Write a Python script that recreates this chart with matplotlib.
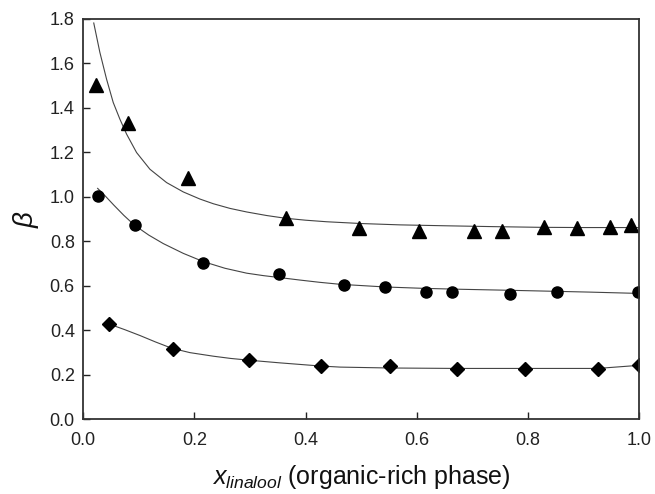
import matplotlib
matplotlib.use("Agg")
import matplotlib.pyplot as plt

plt.rcParams['font.family'] = ['Liberation Sans', 'DejaVu Sans']
plt.rcParams['mathtext.fontset'] = 'custom'
plt.rcParams['mathtext.rm'] = 'Liberation Sans'
plt.rcParams['mathtext.it'] = 'Liberation Sans:italic'

# Experimental points
tri_x = [0.023, 0.081, 0.188, 0.364, 0.496, 0.604, 0.703, 0.754, 0.829, 0.888, 0.947, 0.986]
tri_y = [1.503, 1.333, 1.086, 0.906, 0.858, 0.848, 0.848, 0.848, 0.866, 0.858, 0.866, 0.874]

cir_x = [0.027, 0.093, 0.216, 0.353, 0.469, 0.543, 0.616, 0.664, 0.768, 0.852, 0.998]
cir_y = [1.003, 0.872, 0.703, 0.652, 0.603, 0.595, 0.573, 0.573, 0.563, 0.573, 0.573]

dia_x = [0.046, 0.161, 0.299, 0.428, 0.552, 0.672, 0.795, 0.925, 1.000]
dia_y = [0.428, 0.318, 0.269, 0.240, 0.240, 0.228, 0.228, 0.228, 0.243]

# Fitted curves
tri_cx = [0.019, 0.030, 0.042, 0.054, 0.066, 0.078, 0.096, 0.120, 0.150, 0.180, 0.210, 0.234,
          0.264, 0.294, 0.330, 0.363, 0.400, 0.438, 0.500, 0.570, 0.650, 0.740, 0.822, 0.900, 1.000]
tri_cy = [1.781, 1.649, 1.529, 1.424, 1.349, 1.282, 1.199, 1.124, 1.064, 1.022, 0.990, 0.969,
          0.948, 0.932, 0.916, 0.904, 0.895, 0.888, 0.880, 0.874, 0.870, 0.866, 0.863, 0.862, 0.862]

cir_cx = [0.026, 0.040, 0.055, 0.073, 0.092, 0.118, 0.144, 0.180, 0.216, 0.255, 0.294, 0.324,
          0.354, 0.390, 0.425, 0.462, 0.543, 0.610, 0.672, 0.750, 0.822, 0.910, 1.000]
cir_cy = [1.038, 1.003, 0.963, 0.917, 0.873, 0.828, 0.790, 0.746, 0.709, 0.679, 0.657, 0.646,
          0.637, 0.626, 0.616, 0.607, 0.595, 0.589, 0.585, 0.581, 0.577, 0.572, 0.566]

dia_cx = [0.045, 0.075, 0.102, 0.130, 0.159, 0.192, 0.234, 0.265, 0.298, 0.354, 0.426, 0.462,
          0.550, 0.672, 0.795, 0.925, 1.000]
dia_cy = [0.430, 0.403, 0.377, 0.348, 0.320, 0.300, 0.284, 0.274, 0.266, 0.254, 0.240, 0.235,
          0.231, 0.229, 0.229, 0.229, 0.243]

x_ticks = [0.0, 0.2, 0.4, 0.6, 0.8, 1.0]
y_ticks = [0.0, 0.2, 0.4, 0.6, 0.8, 1.0, 1.2, 1.4, 1.6, 1.8]

fig = plt.figure(figsize=(6.55, 4.94), dpi=100)
ax = fig.add_axes([0.127, 0.151, 0.849, 0.811])

line_kw = dict(color='#444444', lw=0.8)
ax.plot(tri_cx, tri_cy, **line_kw)
ax.plot(cir_cx, cir_cy, **line_kw)
ax.plot(dia_cx, dia_cy, **line_kw)

ax.plot(tri_x, tri_y, linestyle='none', marker='^', ms=9.5, color='black')
ax.plot(cir_x, cir_y, linestyle='none', marker='o', ms=8, color='black')
ax.plot(dia_x, dia_y, linestyle='none', marker='D', ms=7.5, color='black')

ax.set_xlim(0, 1.0)
ax.set_ylim(0, 1.8)
ax.set_xticks(x_ticks)
ax.set_yticks(y_ticks)
ax.set_xticklabels([f"{v:.1f}" for v in x_ticks])
ax.set_yticklabels([f"{v:.1f}" for v in y_ticks])
ax.tick_params(direction='in', length=5, width=1, labelsize=13, colors='#222222')
ax.tick_params(axis='x', pad=9)
ax.tick_params(axis='y', pad=6)

for sp in ax.spines.values():
    sp.set_linewidth(1.3)
    sp.set_color('#333333')

ax.set_xlabel(r'$x_{linalool}$ (organic-rich phase)', fontsize=18, labelpad=10, color='#111111')
ax.set_ylabel(r'$\beta$', fontsize=20, labelpad=6, color='#111111')

fig.savefig('out.png', dpi=100)
